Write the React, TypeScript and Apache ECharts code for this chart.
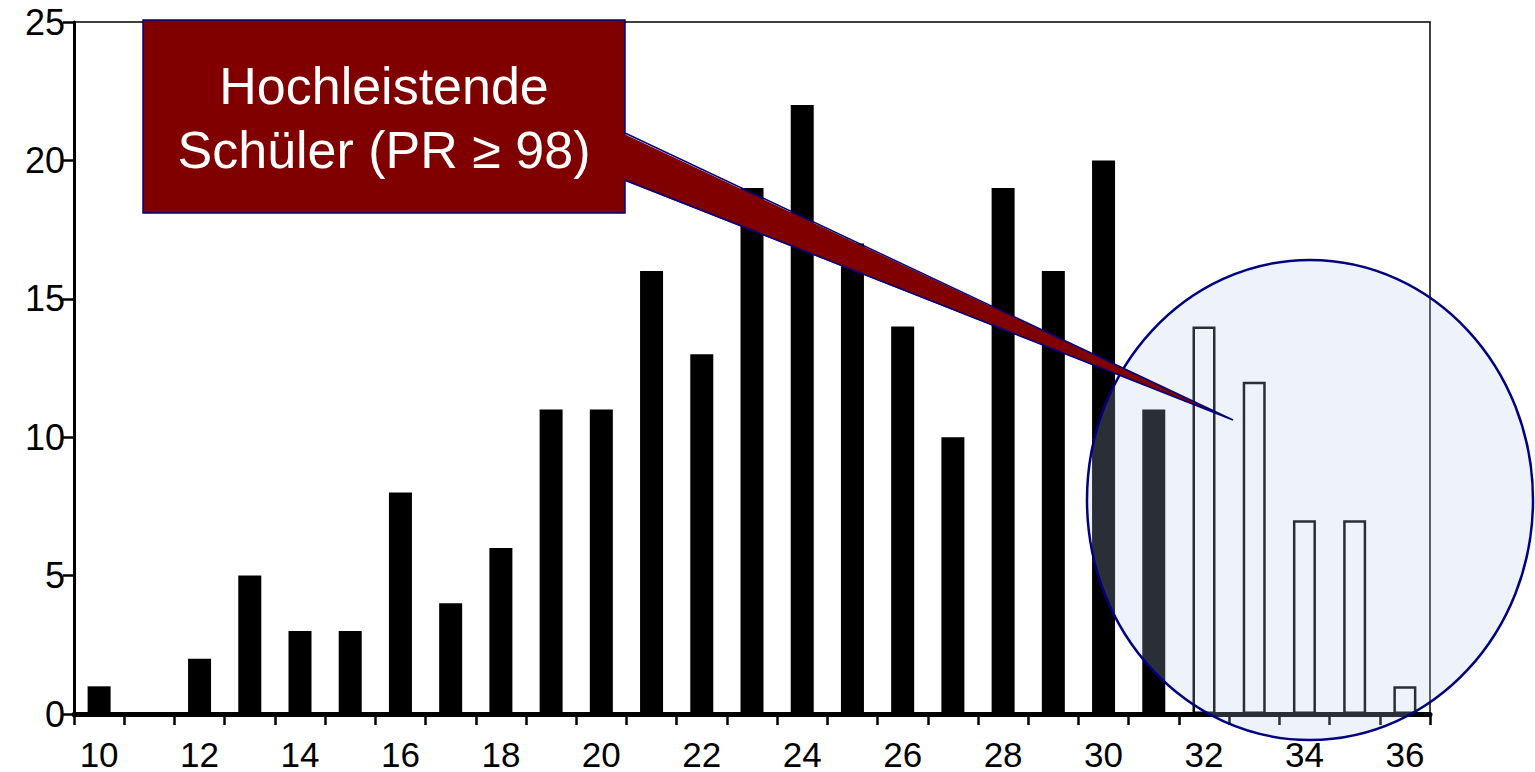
import React, { useEffect, useRef } from "react";
import * as echarts from "echarts";

const categories = ["10","11","12","13","14","15","16","17","18","19","20","21","22","23","24","25","26","27","28","29","30","31","32","33","34","35","36"];
const counts = [1, 0, 2, 5, 3, 3, 8, 4, 6, 11, 11, 16, 13, 19, 22, 17, 14, 10, 19, 16, 20, 11, 14, 12, 7, 7, 1];
// categories drawn as hollow bars (the high performers inside the magnifier)
const hollowCategories = ["32", "33", "34", "35", "36"];
const yTicks = { min: 0, max: 25, interval: 5 };
const calloutLines = ["Hochleistende", "Schüler (PR ≥ 98)"];

export default function App() {
  const ref = useRef<HTMLDivElement>(null);

  useEffect(() => {
    if (!ref.current) return;
    const chart = echarts.init(ref.current, undefined, { renderer: "svg" });
    const font = "'Liberation Sans', Arial, Helvetica, sans-serif";

    const data = counts.map((v, i) =>
      hollowCategories.includes(categories[i])
        ? { value: v, itemStyle: { color: "#ffffff", borderColor: "#000000", borderWidth: 2.5 } }
        : v
    );

    chart.setOption({
      animation: false,
      backgroundColor: "#ffffff",
      grid: {
        left: 74,
        right: 105,
        top: 22,
        bottom: 58,
        show: true,
        borderColor: "#000000",
        borderWidth: 1.5,
        backgroundColor: "transparent",
      },
      xAxis: {
        type: "category",
        data: categories,
        boundaryGap: true,
        axisLine: { show: true, lineStyle: { color: "#000", width: 5 } },
        axisTick: { show: true, interval: 0, length: 11, lineStyle: { color: "#000", width: 2.5 } },
        axisLabel: {
          interval: 1,
          fontSize: 35,
          lineHeight: 36,
          color: "#000",
          fontFamily: font,
          margin: 22,
        },
        splitLine: { show: false },
      },
      yAxis: {
        type: "value",
        min: yTicks.min,
        max: yTicks.max,
        interval: yTicks.interval,
        axisLine: { show: true, lineStyle: { color: "#000", width: 3 } },
        axisTick: { show: true, length: 11, lineStyle: { color: "#000", width: 2.5 } },
        axisLabel: { fontSize: 36, color: "#000", fontFamily: font, margin: 9 },
        splitLine: { show: false },
      },
      series: [
        {
          type: "bar",
          data,
          barWidth: 23,
          itemStyle: { color: "#000000" },
          z: 2,
        },
      ],
      graphic: [
        {
          type: "ellipse",
          z: 100,
          shape: { cx: 1310, cy: 500, rx: 223, ry: 240 },
          style: { fill: "rgba(183,200,235,0.23)", stroke: "#000080", lineWidth: 2.5 },
        },
        {
          type: "rect",
          z: 110,
          shape: { x: 143, y: 20, width: 482, height: 193 },
          style: { fill: "#800000", stroke: "#000080", lineWidth: 1.5 },
        },
        {
          type: "polygon",
          z: 111,
          shape: { points: [[622, 133], [1233, 420], [622, 180]] },
          style: { fill: "#800000" },
        },
        {
          type: "polyline",
          z: 112,
          shape: { points: [[625, 133], [1233, 420], [625, 180]] },
          style: { fill: null, stroke: "#000080", lineWidth: 1.5 },
        },
        {
          type: "text",
          z: 113,
          x: 384,
          y: 118,
          style: {
            text: calloutLines.join("\n"),
            fill: "#ffffff",
            fontSize: 52,
            fontFamily: font,
            lineHeight: 64,
            align: "center",
            verticalAlign: "middle",
          },
        },
      ],
    });

    return () => chart.dispose();
  }, []);

  return (
    <div
      ref={ref}
      style={{ position: "fixed", left: 0, top: 0, width: 1535, height: 772 }}
    />
  );
}
